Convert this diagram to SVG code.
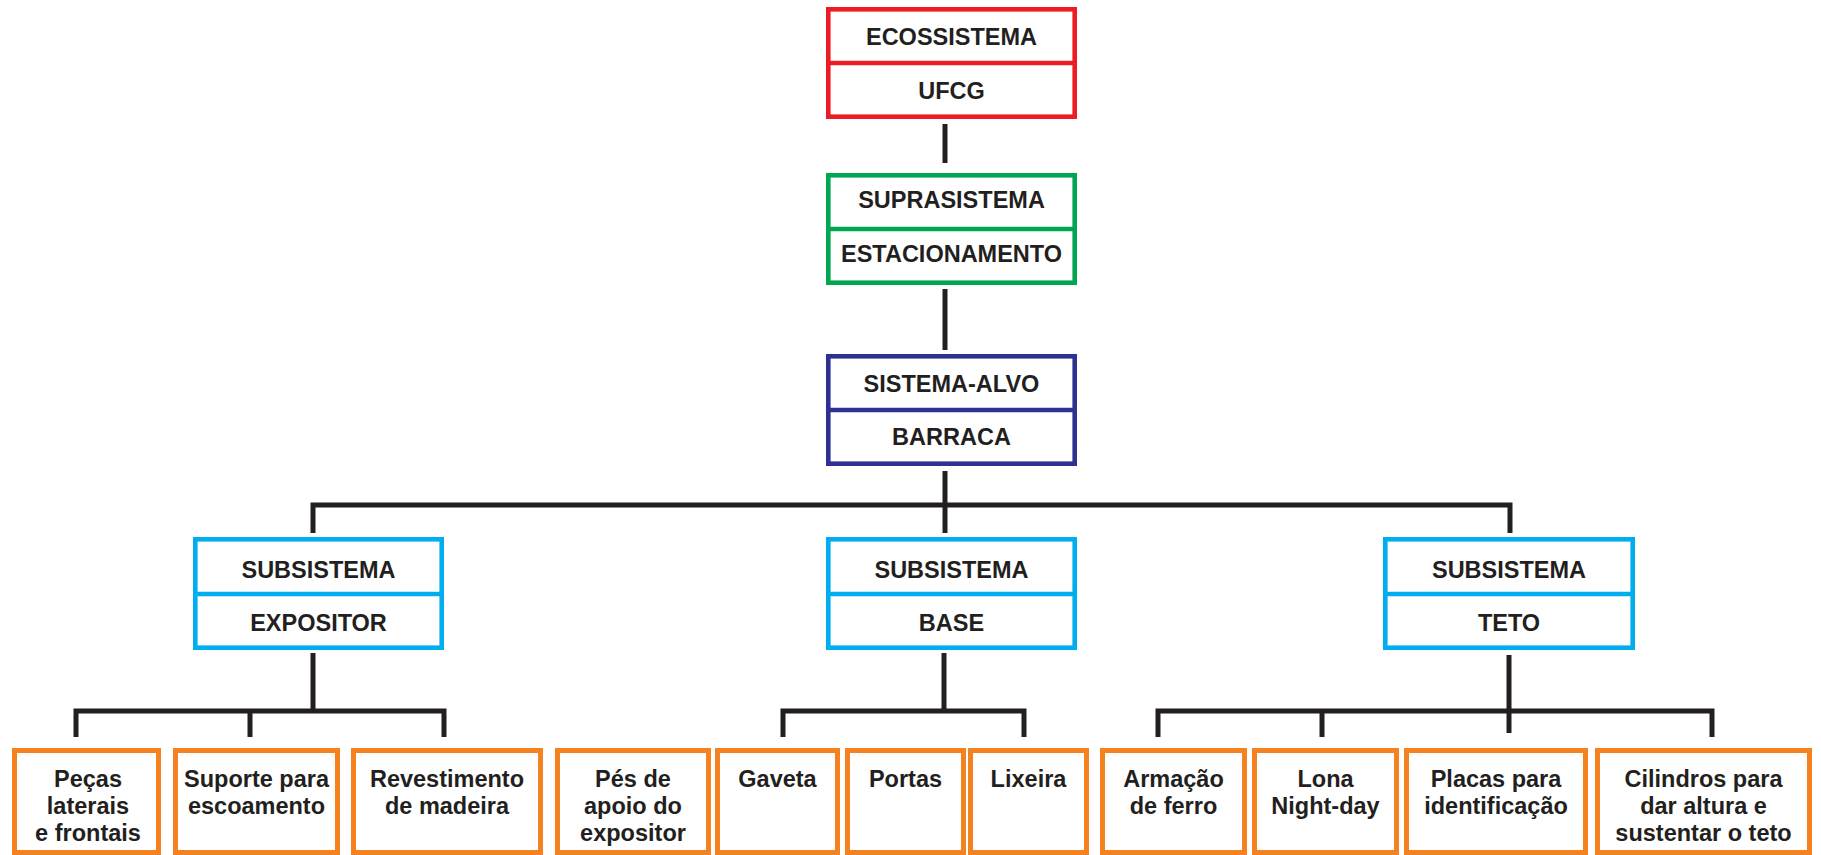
<svg xmlns="http://www.w3.org/2000/svg" width="1821" height="855" viewBox="0 0 1821 855">
<style>
.bg{fill:#ffffff}
.box{fill:#ffffff;stroke-width:4.6}
.red{stroke:#ED1C24}
.green{stroke:#00A651}
.navy{stroke:#2E3192}
.cyan{stroke:#00AEEF}
.orange{fill:#ffffff;stroke:#F58220;stroke-width:5}
.div{stroke-width:4.6}
.t{font-family:"Liberation Sans",Arial,Helvetica,sans-serif;font-weight:bold;font-size:23.5px;fill:#231F20;text-anchor:middle}
.conn{fill:none;stroke:#231F20;stroke-width:5;stroke-linejoin:miter;stroke-linecap:butt}
</style>
<rect class="bg" x="0" y="0" width="1821" height="855"/>

<g id="connectors">
<line class="conn" x1="945" y1="124" x2="945" y2="163"/>
<line class="conn" x1="945" y1="289" x2="945" y2="350"/>
<line class="conn" x1="945" y1="471" x2="945" y2="533"/>
<polyline class="conn" points="313,533 313,505 1510,505 1510,533"/>
<line class="conn" x1="313" y1="653" x2="313" y2="711"/>
<polyline class="conn" points="76,737 76,711 444,711 444,737"/>
<line class="conn" x1="250" y1="711" x2="250" y2="737"/>
<line class="conn" x1="944" y1="653" x2="944" y2="711"/>
<polyline class="conn" points="783,737 783,711 1024,711 1024,737"/>
<line class="conn" x1="1509" y1="655" x2="1509" y2="733"/>
<polyline class="conn" points="1158,737 1158,711 1712,711 1712,737"/>
<line class="conn" x1="1322" y1="711" x2="1322" y2="737"/>
</g>

<g id="ecossistema">
<rect class="box red" x="828.3" y="9.3" width="246.4" height="107.4"/>
<line class="div red" x1="828" y1="63" x2="1075" y2="63"/>
<text class="t" x="951.5" y="45">ECOSSISTEMA</text>
<text class="t" x="951.5" y="99">UFCG</text>
</g>

<g id="suprasistema">
<rect class="box green" x="828.3" y="175.3" width="246.4" height="107.4"/>
<line class="div green" x1="828" y1="229" x2="1075" y2="229"/>
<text class="t" x="951.5" y="208">SUPRASISTEMA</text>
<text class="t" x="951.5" y="262">ESTACIONAMENTO</text>
</g>

<g id="sistema-alvo">
<rect class="box navy" x="828.3" y="356.3" width="246.4" height="107.4"/>
<line class="div navy" x1="828" y1="410" x2="1075" y2="410"/>
<text class="t" x="951.5" y="392">SISTEMA-ALVO</text>
<text class="t" x="951.5" y="445">BARRACA</text>
</g>

<g id="sub-expositor">
<rect class="box cyan" x="195.3" y="539.3" width="246.4" height="108.4"/>
<line class="div cyan" x1="195" y1="594" x2="442" y2="594"/>
<text class="t" x="318.5" y="578">SUBSISTEMA</text>
<text class="t" x="318.5" y="631">EXPOSITOR</text>
</g>

<g id="sub-base">
<rect class="box cyan" x="828.3" y="539.3" width="246.4" height="108.4"/>
<line class="div cyan" x1="828" y1="594" x2="1075" y2="594"/>
<text class="t" x="951.5" y="578">SUBSISTEMA</text>
<text class="t" x="951.5" y="631">BASE</text>
</g>

<g id="sub-teto">
<rect class="box cyan" x="1385.3" y="539.3" width="247.4" height="108.4"/>
<line class="div cyan" x1="1385" y1="594" x2="1633" y2="594"/>
<text class="t" x="1509" y="578">SUBSISTEMA</text>
<text class="t" x="1509" y="631">TETO</text>
</g>

<g id="pecas">
<rect class="orange" x="14.5" y="750.5" width="144" height="102"/>
<text class="t" x="88" y="787">Peças</text>
<text class="t" x="88" y="814">laterais</text>
<text class="t" x="88" y="841">e frontais</text>
</g>

<g id="suporte">
<rect class="orange" x="175.5" y="750.5" width="162" height="102"/>
<text class="t" x="256.5" y="787">Suporte para</text>
<text class="t" x="256.5" y="814">escoamento</text>
</g>

<g id="revestimento">
<rect class="orange" x="353.5" y="750.5" width="187" height="102"/>
<text class="t" x="447" y="787">Revestimento</text>
<text class="t" x="447" y="814">de madeira</text>
</g>

<g id="pes">
<rect class="orange" x="557.5" y="750.5" width="151" height="102"/>
<text class="t" x="633" y="787">Pés de</text>
<text class="t" x="633" y="814">apoio do</text>
<text class="t" x="633" y="841">expositor</text>
</g>

<g id="gaveta">
<rect class="orange" x="717.5" y="750.5" width="120" height="102"/>
<text class="t" x="777.5" y="787">Gaveta</text>
</g>

<g id="portas">
<rect class="orange" x="847.5" y="750.5" width="116" height="102"/>
<text class="t" x="905.5" y="787">Portas</text>
</g>

<g id="lixeira">
<rect class="orange" x="970.5" y="750.5" width="116" height="102"/>
<text class="t" x="1028.5" y="787">Lixeira</text>
</g>

<g id="armacao">
<rect class="orange" x="1102.5" y="750.5" width="142" height="102"/>
<text class="t" x="1173.5" y="787">Armação</text>
<text class="t" x="1173.5" y="814">de ferro</text>
</g>

<g id="lona">
<rect class="orange" x="1254.5" y="750.5" width="142" height="102"/>
<text class="t" x="1325.5" y="787">Lona</text>
<text class="t" x="1325.5" y="814">Night-day</text>
</g>

<g id="placas">
<rect class="orange" x="1406.5" y="750.5" width="179" height="102"/>
<text class="t" x="1496" y="787">Placas para</text>
<text class="t" x="1496" y="814">identificação</text>
</g>

<g id="cilindros">
<rect class="orange" x="1597.5" y="750.5" width="212" height="102"/>
<text class="t" x="1703.5" y="787">Cilindros para</text>
<text class="t" x="1703.5" y="814">dar altura e</text>
<text class="t" x="1703.5" y="841">sustentar o teto</text>
</g>
</svg>
